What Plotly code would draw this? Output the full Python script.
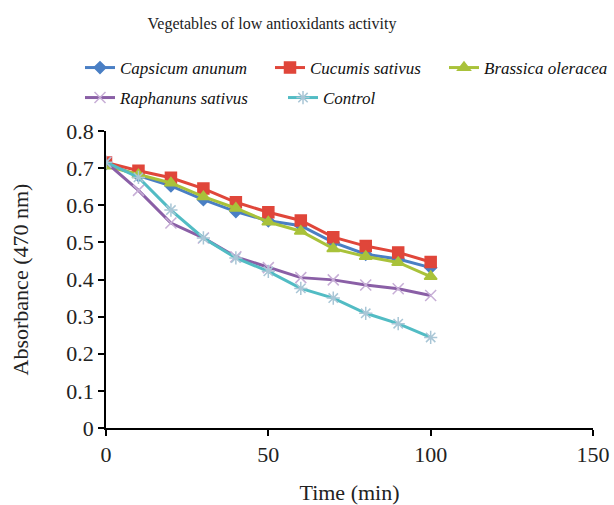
import plotly.graph_objects as go

time_min = [0, 10, 20, 30, 40, 50, 60, 70, 80, 90, 100]
capsicum = [0.712, 0.680, 0.652, 0.615, 0.583, 0.558, 0.545, 0.500, 0.468, 0.455, 0.432]
cucumis = [0.715, 0.693, 0.674, 0.645, 0.608, 0.581, 0.559, 0.514, 0.490, 0.473, 0.447]
brassica = [0.706, 0.682, 0.660, 0.623, 0.592, 0.555, 0.530, 0.483, 0.462, 0.446, 0.408]
raphanus = [0.716, 0.640, 0.552, 0.512, 0.461, 0.432, 0.405, 0.399, 0.385, 0.375, 0.357]
control = [0.716, 0.675, 0.587, 0.512, 0.458, 0.422, 0.376, 0.350, 0.309, 0.281, 0.244]

series = [
    ("Capsicum anunum", capsicum, "#4a7fc4", "diamond", 9, "#4a7fc4"),
    ("Cucumis sativus", cucumis, "#e0463a", "square", 11, "#e0463a"),
    ("Brassica oleracea", brassica, "#a9c23a", "triangle-up", 11, "#a9c23a"),
    ("Raphanuns sativus", raphanus, "#8a5fa6", "x-thin-open", 11, "#c7aed6"),
    ("Control", control, "#52bcc4", "asterisk-open", 11, "#a9c6d6"),
]
# legend placement (container pixels): left edge, row centre
leg_pos = [(80, 68), (270, 68), (444, 68), (80, 98), (283, 98)]

W, H = 614, 505
serif = "Liberation Serif"

fig = go.Figure()
layout_legends = {}
for i, (name, vals, color, sym, size, mcolor) in enumerate(series):
    key = "legend" if i == 0 else f"legend{i + 1}"
    fig.add_trace(go.Scatter(
        x=time_min, y=vals, name=name, mode="lines+markers",
        line=dict(color=color, width=3),
        marker=dict(symbol=sym, size=size, color=mcolor,
                    line=dict(color=mcolor, width=1.5)),
        legend=key,
    ))
    lx, ly = leg_pos[i]
    layout_legends[key] = dict(
        orientation="h", xref="container", yref="container",
        x=lx / W, xanchor="left", y=1 - ly / H, yanchor="middle",
        font=dict(size=17, family=serif, style="italic", color="#111"),
        itemwidth=30, bgcolor="rgba(0,0,0,0)", borderwidth=0,
    )

fig.update_layout(
    width=W, height=H,
    paper_bgcolor="white", plot_bgcolor="white",
    margin=dict(l=106, r=21, t=131, b=77),
    font=dict(family=serif, color="black"),
    title=dict(text="Vegetables of low antioxidants activity",
               x=272 / W, xref="container", xanchor="center",
               y=1 - 23 / H, yref="container", yanchor="middle",
               font=dict(size=16, family=serif, color="#222")),
    showlegend=True,
    **layout_legends,
)
fig.update_xaxes(
    range=[0, 150], tickvals=[0, 50, 100, 150],
    showgrid=False, zeroline=False, automargin=False,
    showline=True, linecolor="black", linewidth=1.5,
    ticks="outside", ticklen=6, tickcolor="black", tickwidth=1.5,
    tickfont=dict(size=22, family=serif, color="#222"),
    title=dict(text="Time (min)", font=dict(size=22, family=serif, color="#222"), standoff=22),
)
fig.update_yaxes(
    range=[0, 0.8], tickvals=[0, 0.1, 0.2, 0.3, 0.4, 0.5, 0.6, 0.7, 0.8],
    ticktext=["0", "0.1", "0.2", "0.3", "0.4", "0.5", "0.6", "0.7", "0.8"],
    showgrid=False, zeroline=False, automargin=False,
    showline=True, linecolor="black", linewidth=1.5,
    ticks="outside", ticklen=6, tickcolor="black", tickwidth=1.5,
    tickfont=dict(size=22, family=serif, color="#222"),
    title=dict(text="Absorbance (470 nm)", font=dict(size=22, family=serif, color="#222"), standoff=32),
)

fig.write_html("out.html", config={"displayModeBar": False},
               post_script="document.body.style.margin='0';")
